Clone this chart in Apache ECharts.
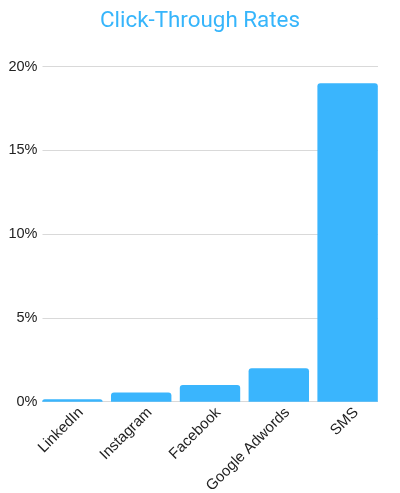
<!DOCTYPE html>
<html>
<head>
<meta charset="utf-8">
<script src="https://cdn.jsdelivr.net/npm/echarts@6/dist/echarts.min.js"></script>
<style>
    html, body { margin: 0; padding: 0; background: #fff; }
    #chart { width: 400px; height: 493px; }
</style>
</head>
<body>
<div id="chart"></div>
<script>
// channels and their click-through rates (%)
const categories = ['LinkedIn', 'Instagram', 'Facebook', 'Google Adwords', 'SMS'];
const rates = [0.15, 0.55, 1.0, 2.0, 19.0];
const yTicks = [0, 5, 10, 15, 20];

let myChart = echarts.init(document.getElementById('chart'));
myChart.setOption({
    title: {
        text: 'Click-Through Rates',
        left: 'center',
        top: 5,
        textStyle: {
            color: '#36b5fb',
            fontFamily: 'Roboto',
            fontWeight: 'normal',
            fontSize: 22.4
        }
    },
    // grid 0 holds the bars (bars run flush to the gridline ends),
    // grid 1 only draws the y labels and gridlines
    grid: [
        { left: 38, right: 18, top: 66.5, bottom: 91.3, outerBoundsMode: 'none' },
        { left: 42.5, right: 22, top: 66.5, bottom: 91.3, outerBoundsMode: 'none' }
    ],
    xAxis: [{
        type: 'category',
        gridIndex: 0,
        data: categories,
        axisLine: { show: false },
        axisTick: { show: false },
        axisLabel: {
            interval: 0,
            rotate: 45,
            color: '#222',
            fontFamily: 'Liberation Sans',
            fontSize: 15,
            verticalAlign: 'top',
            lineHeight: 24,
            margin: 0
        }
    }, {
        type: 'value',
        gridIndex: 1,
        show: false,
        min: 0,
        max: 1
    }],
    yAxis: [{
        type: 'value',
        gridIndex: 0,
        min: yTicks[0],
        max: yTicks[yTicks.length - 1],
        interval: 5,
        show: false,
        splitLine: { show: false }
    }, {
        type: 'value',
        gridIndex: 1,
        min: yTicks[0],
        max: yTicks[yTicks.length - 1],
        interval: 5,
        axisLine: { show: false },
        axisTick: { show: false },
        splitLine: { lineStyle: { color: '#d9d9d9' } },
        axisLabel: {
            color: '#222',
            fontFamily: 'Liberation Sans',
            fontSize: 14.5,
            margin: 5,
            formatter: v => v + '%'
        }
    }],
    series: [{
        type: 'bar',
        xAxisIndex: 0,
        yAxisIndex: 0,
        data: rates,
        barCategoryGap: '12.2%',
        itemStyle: {
            color: '#3ab5fd',
            borderRadius: [3, 3, 0, 0]
        }
    }]
});
</script>
</body>
</html>
